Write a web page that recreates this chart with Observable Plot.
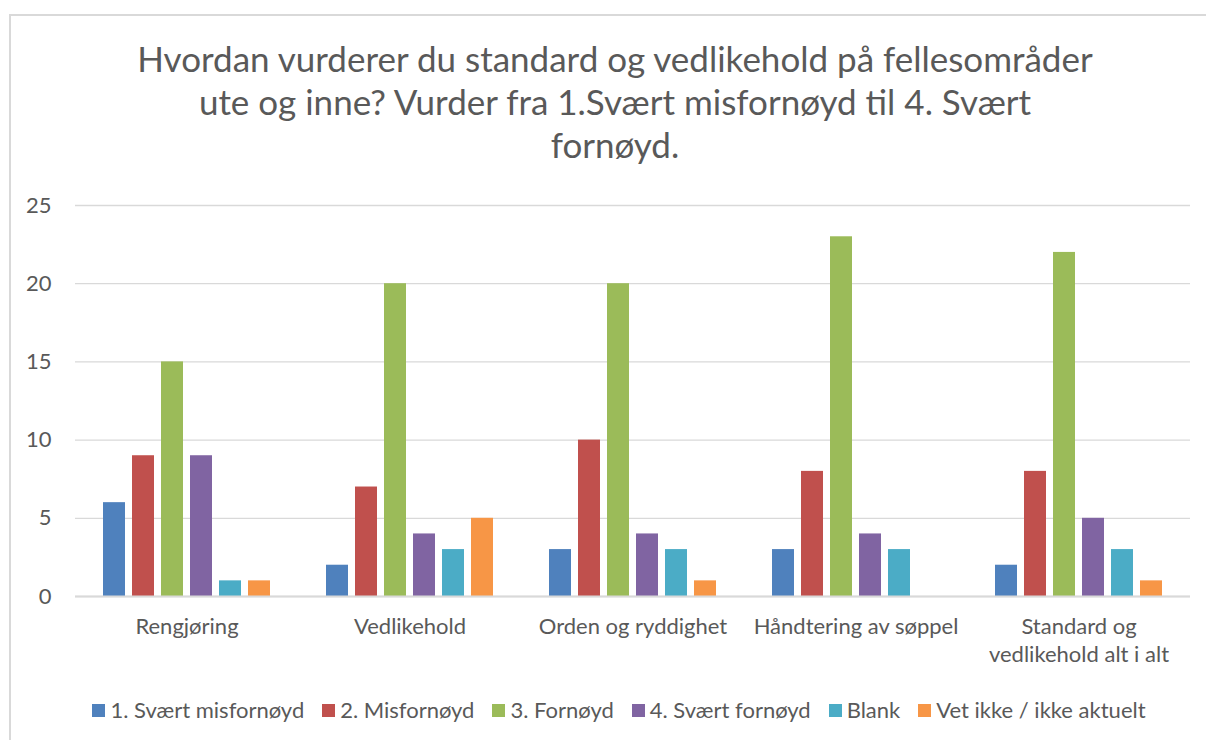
<!DOCTYPE html>
<html>
<head>
<meta charset="utf-8">
<script src="https://cdn.jsdelivr.net/npm/d3@7"></script>
<script src="https://cdn.jsdelivr.net/npm/@observablehq/plot@0.6"></script>
<style>
  html, body { margin: 0; padding: 0; background: #fff; }
  #frame { position: relative; width: 1206px; height: 740px; overflow: hidden; font-family: Lato, sans-serif; color: #595959; }
  #border { position: absolute; left: 9px; top: 14px; width: 1400px; height: 900px; border-left: 2px solid #d9d9d9; border-top: 2px solid #d9d9d9; box-sizing: border-box; }
  #title { position: absolute; left: 0; top: 37px; width: 1230px; text-align: center; font-size: 35px; line-height: 43px; }
  #chart { position: absolute; left: 0; top: 180px; }
  #legend { position: absolute; left: 0; top: 697px; width: 1238px; display: flex; justify-content: center; font-size: 22px; line-height: 26px; }
  .item { display: flex; align-items: center; margin-right: 18px; }
  .item:last-child { margin-right: 0; }
  .sw { width: 13px; height: 13px; margin-right: 5px; }
</style>
</head>
<body>
<div id="frame">
  <div id="border"></div>
  <div id="title">Hvordan vurderer du standard og vedlikehold på fellesområder<br>ute og inne? Vurder fra 1.Svært misfornøyd til 4. Svært<br>fornøyd.</div>
  <div id="chart"></div>
  <div id="legend"></div>
</div>
<script>
const categories = ["Rengjøring", "Vedlikehold", "Orden og ryddighet", "Håndtering av søppel", "Standard og vedlikehold alt i alt"];
const categoryLabels = ["Rengjøring", "Vedlikehold", "Orden og ryddighet", "Håndtering av søppel", "Standard og\nvedlikehold alt i alt"];
const series = ["1. Svært misfornøyd", "2. Misfornøyd", "3. Fornøyd", "4. Svært fornøyd", "Blank", "Vet ikke / ikke aktuelt"];
const colors = ["#4F81BD", "#C0504D", "#9BBB59", "#8064A2", "#4BACC6", "#F79646"];
const svaertMisfornoyd = [6, 2, 3, 3, 2];
const misfornoyd = [9, 7, 10, 8, 8];
const fornoyd = [15, 20, 20, 23, 22];
const svaertFornoyd = [9, 4, 4, 4, 5];
const blank = [1, 3, 3, 3, 3];
const vetIkke = [1, 5, 1, 0, 1];
const yTicks = [0, 5, 10, 15, 20, 25];

const seriesValues = [svaertMisfornoyd, misfornoyd, fornoyd, svaertFornoyd, blank, vetIkke];
const data = [];
categories.forEach((c, ci) => {
  series.forEach((s, si) => {
    data.push({category: c, series: s, value: seriesValues[si][ci]});
  });
});

const chart = Plot.plot({
  width: 1206,
  height: 500,
  marginLeft: 74,
  marginRight: 15,
  marginTop: 25,
  marginBottom: 84,
  style: {fontFamily: "Lato, sans-serif", fontSize: "22px", color: "#595959", background: "transparent", overflow: "visible"},
  fx: {domain: categories, padding: 0, label: null, axis: null},
  x: {domain: series, paddingInner: 0.228, paddingOuter: 0.862, axis: null},
  y: {domain: [0, 25], label: null, axis: null},
  color: {domain: series, range: colors},
  marks: [
    Plot.gridY(yTicks, {stroke: "#d9d9d9", strokeOpacity: 1, strokeWidth: 1.3}),
    Plot.barY(data, {fx: "category", x: "series", y: "value", fill: "series"}),
    Plot.ruleY([0], {stroke: "#d9d9d9", strokeWidth: 2}),
    Plot.axisY(yTicks, {anchor: "left", tickSize: 0, tickPadding: 24, label: null, fill: "#595959"}),
    Plot.axisFx({anchor: "bottom", tickSize: 0, tickPadding: 18, label: null, lineHeight: 1.27, fill: "#595959",
      tickFormat: d => categoryLabels[categories.indexOf(d)]})
  ]
});
document.getElementById("chart").appendChild(chart);

const legend = document.getElementById("legend");
series.forEach((s, i) => {
  const item = document.createElement("div");
  item.className = "item";
  const sw = document.createElement("div");
  sw.className = "sw";
  sw.style.background = colors[i];
  const label = document.createElement("span");
  label.textContent = s;
  item.appendChild(sw);
  item.appendChild(label);
  legend.appendChild(item);
});
</script>
</body>
</html>
